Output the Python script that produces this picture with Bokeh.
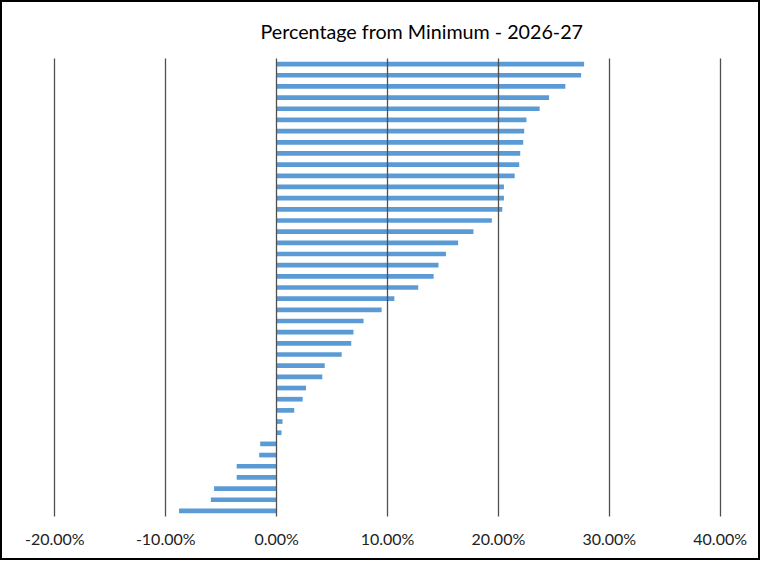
from bokeh.plotting import figure
from bokeh.models import ColumnDataSource, Range1d, FixedTicker, NumeralTickFormatter
from bokeh.embed import file_html
from bokeh.resources import INLINE
import numpy as np

title_text = "Percentage from Minimum - 2026-27"
tick_values = [-0.2, -0.1, 0.0, 0.1, 0.2, 0.3, 0.4]
values = [0.2773, 0.2746, 0.2604, 0.2457, 0.2372, 0.2253, 0.2233, 0.2224, 0.2197,
          0.2188, 0.2147, 0.2050, 0.2050, 0.2035, 0.1941, 0.1775, 0.1637, 0.1527,
          0.1460, 0.1416, 0.1277, 0.1062, 0.0947, 0.0784, 0.0693, 0.0673, 0.0587,
          0.0434, 0.0412, 0.0265, 0.0235, 0.0159, 0.0053, 0.0044, -0.0148, -0.0157,
          -0.0360, -0.0360, -0.0564, -0.0593, -0.0880]

n = len(values)
positions = list(np.arange(n, 0, -1))
src = ColumnDataSource(dict(y=positions, v=values))

p = figure(width=760, height=560, output_backend="svg", toolbar_location=None,
           x_range=Range1d(-0.2003, 0.4003), y_range=Range1d(0.5, n + 0.5),
           min_border_left=52, min_border_right=42, min_border_top=56,
           min_border_bottom=46, title=title_text)
p.styles = {"border": "2px solid black"}

p.hbar(y="y", right="v", left=0, height=0.42, source=src,
       fill_color="#5B9BD5", line_color=None)

p.title.text_font = "Lato"
p.title.text_font_size = "19.7px"
p.title.text_font_style = "normal"
p.title.text_color = "#000000"
p.title.align = "left"
p.title.offset = 206
p.title.standoff = 31

p.outline_line_color = None
p.background_fill_color = "white"
p.border_fill_color = "white"

p.xgrid.ticker = FixedTicker(ticks=tick_values)
p.xgrid.grid_line_color = "#505050"
p.xgrid.grid_line_width = 1.3
p.xgrid.level = "overlay"
p.ygrid.visible = False

p.yaxis.visible = False
xa = p.xaxis[0]
xa.ticker = FixedTicker(ticks=tick_values)
xa.formatter = NumeralTickFormatter(format="0.00%")
xa.axis_line_color = None
xa.major_tick_line_color = None
xa.minor_tick_line_color = None
xa.major_tick_out = 0
xa.major_label_standoff = 12
xa.major_label_text_font = "Lato"
xa.major_label_text_font_size = "16px"
xa.major_label_text_color = "#222222"

open("out.html", "w").write(file_html(p, INLINE))
